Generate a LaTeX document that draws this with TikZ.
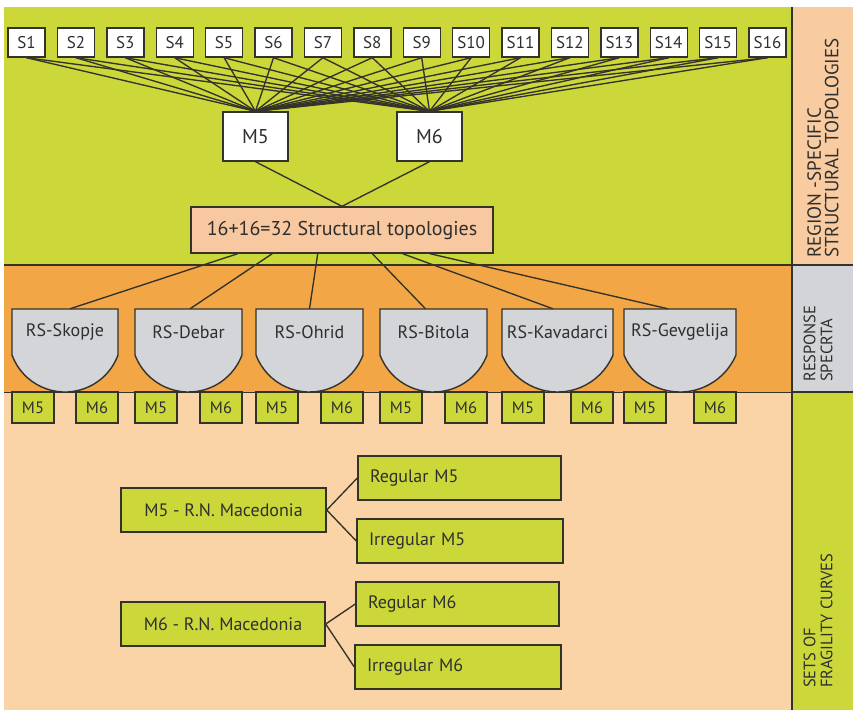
\documentclass[tikz,border=0pt]{standalone}
\usepackage{fontspec}
\setmainfont{PT Sans}
\usetikzlibrary{calc}
\definecolor{lime}{HTML}{CCD83A}
\definecolor{orng}{HTML}{F2A646}
\definecolor{peach}{HTML}{FAD4A6}
\definecolor{peachbox}{HTML}{F8C8A0}
\definecolor{peachside}{HTML}{F8CBA0}
\definecolor{grayside}{HTML}{D2D4D8}
\definecolor{rsgray}{HTML}{D3D5D9}
\definecolor{ink}{HTML}{2F2F2F}
\definecolor{edge}{HTML}{33322B}
\tikzset{
  sbox/.style={draw=edge, line width=1.4pt, fill=white, minimum width=37, minimum height=29, inner sep=0pt, text=ink, font=\fontsize{17}{17}\selectfont},
  mbig/.style={draw=edge, line width=1.4pt, fill=white, minimum width=65, minimum height=49, inner sep=0pt, text=ink, font=\fontsize{20}{20}\selectfont},
  stbox/.style={draw=edge, line width=1.4pt, fill=peachbox, minimum width=302, minimum height=46, inner sep=0pt, text=ink, font=\fontsize{20}{20}\selectfont},
  rstext/.style={inner sep=0pt, text=ink, font=\fontsize{18}{18}\selectfont},
  rsshape/.style={draw=edge, line width=1.4pt, fill=rsgray},
  msmall/.style={draw=edge, line width=1.4pt, fill=lime, minimum width=42, minimum height=31, inner sep=0pt, text=ink, font=\fontsize{16.5}{16.5}\selectfont},
  macbox/.style={draw=edge, line width=1.4pt, fill=lime, minimum height=44, inner sep=0pt, text=ink, font=\fontsize{18}{18}\selectfont},
  leftbox/.style={macbox, inner xsep=12pt, text width=#1, align=left},
  conn/.style={draw=edge, line width=1.35pt},
  sidelab/.style={rotate=90, anchor=west, align=left, inner sep=0pt, text=ink, font=\fontsize{16.5}{17}\selectfont},
  border/.style={draw=edge, line width=1.4pt}
}
\begin{document}
\begin{tikzpicture}[x=1pt,y=-1pt]
\useasboundingbox (0,0) rectangle (853,715);
\fill[white] (0,0) rectangle (853,715);
% bands
\fill[lime] (4,7) rectangle (792,265);
\fill[orng] (4,265) rectangle (792,392);
\fill[peach] (4,392) rectangle (792,710);
\fill[peachside] (792,7) rectangle (853,265);
\fill[grayside] (792,265) rectangle (853,392);
\fill[lime] (792,392) rectangle (853,710);
\draw[border] (4,265) -- (853,265);
\draw[border] (792,392) -- (853,392);
\draw[edge, line width=0.8pt] (4,392) -- (792,392);
\draw[border] (792,7) -- (792,710);

% S boxes
\foreach \i in {1,...,16}{
  \node[sbox] (s\i) at ({26.5+49.4*(\i-1)}, 42.5) {S\i};
}
\node[mbig] (m5) at (255.5,136.5) {M5};
\node[mbig] (m6) at (429.5,136.5) {M6};
\foreach \i in {1,...,16}{
  \draw[conn] (s\i.south) -- (m5.north);
  \draw[conn] (s\i.south) -- (m6.north);
}
\node[stbox] (st) at (342,230) {16+16=32 Structural topologies};
\draw[conn] (m5.south) -- (st.north);
\draw[conn] (m6.south) -- (st.north);

% response spectra shapes
\foreach \k/\cx/\w/\name in {1/65/53/RS-Skopje, 2/188.5/53.5/RS-Debar, 3/309.5/53.5/RS-Ohrid, 4/433.5/53.5/RS-Bitola, 5/557.5/55.5/RS-Kavadarci, 6/680/56/RS-Gevgelija}{
  \pgfmathsetmacro\rr{(\w*\w+37*37)/74}
  \pgfmathsetmacro\aa{atan((\rr-37)/\w)}
  \pgfmathsetmacro\sa{180-\aa}
  \path[rsshape] ({\cx-\w},309) -- ({\cx-\w},355) arc[start angle=\sa, end angle=\aa, radius=\rr] -- ({\cx+\w},309) -- cycle;
  \node[rstext, minimum width={2*\w}, minimum height=46] (rs\k) at (\cx,332) {\name};
  \node[msmall] (a\k) at ({\cx-\w+21},407.5) {M5};
  \node[msmall] (b\k) at ({\cx+\w-21},407.5) {M6};
}
\draw[conn] ($(st.south west)!0.156!(st.south east)$) -- ($(rs1.north)+(5,0)$);
\draw[conn] ($(st.south west)!0.27!(st.south east)$) -- ($(rs2.north)+(1.5,0)$);
\draw[conn] ($(st.south west)!0.42!(st.south east)$) -- (rs3.north);
\draw[conn] ($(st.south west)!0.60!(st.south east)$) -- ($(rs4.north)+(-8,0)$);
\draw[conn] ($(st.south west)!0.70!(st.south east)$) -- ($(rs5.north)+(-4.5,0)$);
\draw[conn] ($(st.south west)!0.79!(st.south east)$) -- ($(rs6.north)+(-12,0)$);

% fragility sets
\node[macbox, minimum width=205] (mk5) at (223.5,510) {M5 - R.N. Macedonia};
\node[leftbox=179pt] (reg5) at (459.5,478) {Regular M5};
\node[leftbox=182pt] (irr5) at (460,541) {Irregular M5};
\node[macbox, minimum width=204] (mk6) at (223,624) {M6 - R.N. Macedonia};
\node[leftbox=179pt] (reg6) at (457.5,604) {Regular M6};
\node[leftbox=182pt] (irr6) at (458,667) {Irregular M6};
\draw[conn] (mk5.east) -- (reg5.west);
\draw[conn] (mk5.east) -- (irr5.west);
\draw[conn] (mk6.east) -- (reg6.west);
\draw[conn] (mk6.east) -- (irr6.west);

% side labels
\node[sidelab, font=\fontsize{19}{17.5}\selectfont] (lab1) at (823,258) {REGION -SPECIFIC\\STRUCTURAL TOPOLOGIES};
\node[sidelab] (lab2) at (818,382) {RESPONSE\\SPECRTA};
\node[sidelab] (lab3) at (818,688) {SETS OF\\FRAGILITY CURVES};
\end{tikzpicture}
\end{document}
